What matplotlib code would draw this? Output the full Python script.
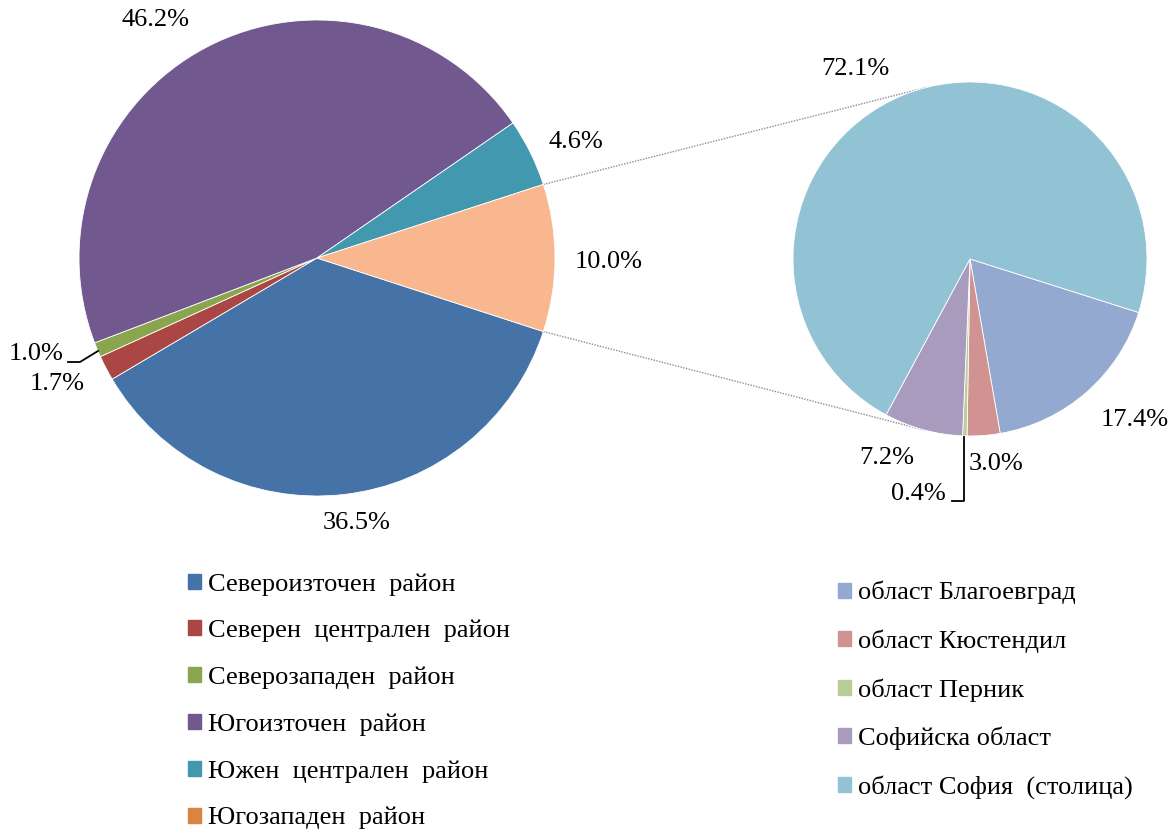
"""
Pie-of-pie chart: regions of Bulgaria, with Югозападен район broken down by oblast
"""
import matplotlib
matplotlib.use("Agg")
import matplotlib.pyplot as plt
import matplotlib.patches as mpatches
import numpy as np

# Main pie: planning regions
regions = ["Североизточен  район", "Северен  централен  район", "Северозападен  район",
           "Югоизточен  район", "Южен  централен  район", "Югозападен  район"]
region_values = [36.5, 1.7, 1.0, 46.2, 4.6, 10.0]
region_colors = ["#4572A7", "#AA4643", "#89A54E", "#71588F", "#4198AF", "#F9B78F"]
region_legend_colors = ["#4572A7", "#AA4643", "#89A54E", "#71588F", "#4198AF", "#DB843D"]

# Secondary pie: oblasts of Югозападен район
oblasts = ["област Благоевград", "област Кюстендил", "област Перник",
           "Софийска област", "област София  (столица)"]
oblast_values = [17.4, 3.0, 0.4, 7.2, 72.1]
oblast_colors = ["#93A9CF", "#D19392", "#B9CD96", "#A99BBD", "#92C3D4"]

W, H = 1169, 832
FONT = "Liberation Serif"


def py(y):
    # pixel row -> data y (axes drawn with y up)
    return H - y


fig = plt.figure(figsize=(W / 100, H / 100), dpi=100)
ax = fig.add_axes([0, 0, 1, 1])

c1, r1 = (317, py(258)), 238
c2, r2 = (970, py(259)), 177

w1, _ = ax.pie(region_values, colors=region_colors, center=c1, radius=r1,
               startangle=-18, counterclock=False,
               wedgeprops=dict(edgecolor="white", linewidth=0.6))
w2, _ = ax.pie(oblast_values, colors=oblast_colors, center=c2, radius=r2,
               startangle=-17.6, counterclock=False,
               wedgeprops=dict(edgecolor="white", linewidth=0.6))

ax.set_xlim(0, W)
ax.set_ylim(0, H)
ax.set_aspect("equal")
ax.axis("off")

# connector lines between the split slice and the secondary pie
split = w1[-1]
for a1, a2 in [(split.theta2, 104.0), (split.theta1, -105.0)]:
    p1 = (c1[0] + r1 * np.cos(np.radians(a1)), c1[1] + r1 * np.sin(np.radians(a1)))
    p2 = (c2[0] + r2 * np.cos(np.radians(a2)), c2[1] + r2 * np.sin(np.radians(a2)))
    ax.plot([p1[0], p2[0]], [p1[1], p2[1]], color="#8c8c8c", linewidth=1.0,
            linestyle=(0, (1, 1)), zorder=0)

# percentage labels
pos1 = [(357, 523), (57, 384), (36, 354), (156, 20), (576, 142), (609, 262)]
pos2 = [(1135, 420), (996, 464), (918, 494), (887, 458), (855, 69)]
for vals, pos in [(region_values, pos1), (oblast_values, pos2)]:
    for v, (x, y) in zip(vals, pos):
        ax.text(x, py(y), f"{v:.1f}%", ha="center", va="center",
                fontsize=19, family=FONT, color="black")

# leader lines for the tiny slices
ax.plot([68, 80, 98], [py(362), py(362), py(351)], color="black", linewidth=1.3)
ax.plot([952, 964, 964], [py(501), py(501), py(437)], color="black", linewidth=1.3)

# legends
h1 = [mpatches.Patch(color=c) for c in region_legend_colors]
h2 = [mpatches.Patch(color=c) for c in oblast_colors]
leg_kw = dict(frameon=False, loc="upper left", borderpad=0, borderaxespad=0,
              handlelength=0.5, handleheight=0.5, handletextpad=0.25,
              prop=dict(family=FONT, size=19))
leg1 = ax.legend(h1, regions, bbox_to_anchor=(188 / W, 1 - 573 / H),
                 labelspacing=0.92, **leg_kw)
ax.add_artist(leg1)
ax.legend(h2, oblasts, bbox_to_anchor=(838 / W, 1 - 581 / H),
          labelspacing=0.95, **leg_kw)

plt.savefig("out.png", dpi=100)
